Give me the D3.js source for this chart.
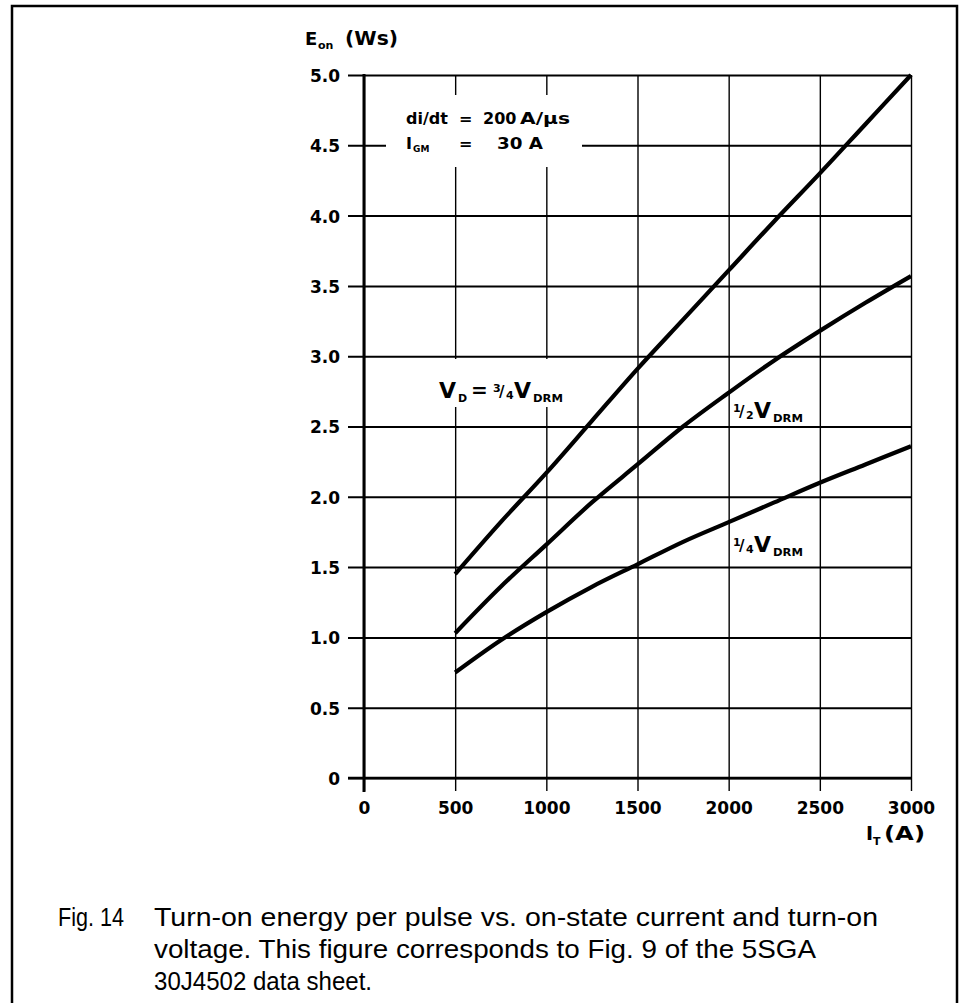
<!DOCTYPE html>
<html><head><meta charset="utf-8">
<script src="https://cdn.jsdelivr.net/npm/d3@7"></script>
<style>
body{margin:0;background:#fff}
svg{display:block}
.lab{font-family:"DejaVu Sans",sans-serif;font-weight:bold;fill:#000}
.cap{font-family:"Liberation Sans",Arial,sans-serif;font-weight:normal;fill:#000}
</style>
</head><body>
<svg id="c" width="965" height="1003"></svg>
<script>
// ---- data ----
const xTicks = [0, 500, 1000, 1500, 2000, 2500, 3000];
const yTicks = [0, 0.5, 1.0, 1.5, 2.0, 2.5, 3.0, 3.5, 4.0, 4.5, 5.0];
const yTickLabels = ["0", "0.5", "1.0", "1.5", "2.0", "2.5", "3.0", "3.5", "4.0", "4.5", "5.0"];
const current = [500, 750, 1000, 1250, 1500, 1750, 2000, 2250, 2500, 2750, 3000];
const eonThreeQuarter = [1.45, 1.82, 2.17, 2.54, 2.91, 3.26, 3.61, 3.96, 4.30, 4.65, 5.00];
const eonHalf = [1.03, 1.36, 1.66, 1.96, 2.23, 2.50, 2.74, 2.97, 3.18, 3.38, 3.57];
const eonQuarter = [0.75, 0.98, 1.18, 1.36, 1.52, 1.68, 1.82, 1.96, 2.10, 2.23, 2.36];

const svg = d3.select("#c");
const x = d3.scaleLinear().domain([0, 3000]).range([364, 911]);
const y = d3.scaleLinear().domain([0, 5]).range([778, 75]);

// outer frame
svg.append("rect").attr("x", 12).attr("y", 6).attr("width", 945).attr("height", 1020)
  .attr("fill", "none").attr("stroke", "#000").attr("stroke-width", 2.5);

// horizontal grid (with ticks extending left of axis)
const yAxis = d3.axisLeft(y).tickValues(yTicks).tickSize(-(x(3000) - x(0))).tickSizeOuter(0)
  .tickFormat((d, i) => yTickLabels[i]).tickPadding(24);
const gy = svg.append("g").attr("transform", `translate(${x(0)},0)`).call(yAxis);
gy.select(".domain").remove();
gy.selectAll(".tick line").attr("x1", -16).attr("stroke", "#000").attr("stroke-width", 2);
gy.selectAll(".tick text").attr("font-size", 17).attr("dy", "0.38em")
  .style("font-family", "'DejaVu Sans',sans-serif").style("font-weight", "bold").attr("fill", "#000");

// vertical grid (with ticks extending below axis)
const xAxis = d3.axisBottom(x).tickValues(xTicks).tickSize(-(y(0) - y(5))).tickSizeOuter(0)
  .tickFormat(d3.format("d")).tickPadding(24);
const gx = svg.append("g").attr("transform", `translate(0,${y(0)})`).call(xAxis);
gx.select(".domain").remove();
gx.selectAll(".tick line").attr("y1", 13).attr("stroke", "#000").attr("stroke-width", 1.4);
gx.selectAll(".tick text").attr("font-size", 17)
  .style("font-family", "'DejaVu Sans',sans-serif").style("font-weight", "bold").attr("fill", "#000");

// left axis line and bottom axis (thicker)
svg.append("line").attr("x1", x(0)).attr("x2", x(0)).attr("y1", y(5) - 1).attr("y2", y(0) + 14)
  .attr("stroke", "#000").attr("stroke-width", 3);
svg.append("line").attr("x1", x(0) - 16).attr("x2", x(3000)).attr("y1", y(0)).attr("y2", y(0))
  .attr("stroke", "#000").attr("stroke-width", 2.5);

// white gaps behind annotations
svg.append("rect").attr("x", 386).attr("y", 95).attr("width", 196).attr("height", 72).attr("fill", "#fff");
svg.append("rect").attr("x", 432).attr("y", 359).attr("width", 148).attr("height", 48).attr("fill", "#fff");

// curves
const line = d3.line().x((d, i) => x(current[i])).y(d => y(d)).curve(d3.curveCatmullRom.alpha(0.5));
[eonThreeQuarter, eonHalf, eonQuarter].forEach(s => {
  svg.append("path").datum(s).attr("d", line).attr("fill", "none")
    .attr("stroke", "#000").attr("stroke-width", 4.2).attr("stroke-linecap", "butt");
});

// helper for absolutely placed text pieces
function put(xx, yy, size, s, len) {
  const t = svg.append("text").attr("class", "lab").attr("x", xx).attr("y", yy).attr("font-size", size).text(s);
  if (len) t.attr("textLength", len).attr("lengthAdjust", "spacingAndGlyphs");
  return t;
}

// axis titles
put(305, 45, 18, "E");
put(318, 49, 11, "on");
put(345, 45, 19, "(Ws)", 53);

put(866, 840, 19, "I");
put(873, 845, 11, "T");
put(884, 840, 20, "(A)", 41);

// conditions
put(406, 124, 16, "di/dt");
put(459, 124, 16, "=");
put(483, 124, 16, "200");
put(520, 124, 16, "A/μs", 50);
put(406, 149, 16, "I");
put(413, 152, 9, "GM");
put(459, 149, 16, "=");
put(497, 149, 16, "30 A", 46);

// curve labels
function vlabel(xx, yy, n, d, pre) {
  let cx = xx;
  if (pre) {
    put(cx, yy, 22, "V");
    put(cx + 19, yy + 4, 11, "D");
    put(cx + 32, yy - 1, 20, "=");
    cx = 493;
  }
  put(cx, yy - 6, 11, n);
  put(cx + 6, yy - 1, 15, "/");
  put(cx + 13, yy + 1, 11, d);
  put(cx + 21, yy, 22, "V");
  put(cx + 40, yy + 4, 11, "DRM", 30);
}
vlabel(439, 398, "3", "4", true);
vlabel(733, 418, "1", "2", false);
vlabel(733, 552, "1", "4", false);

// caption
const cap = [
  {x: 58, y: 926, w: 66, s: "Fig. 14"},
  {x: 154, y: 926, w: 724, s: "Turn-on energy per pulse vs. on-state current and turn-on"},
  {x: 154, y: 958, w: 662, s: "voltage. This figure corresponds to Fig. 9 of the 5SGA"},
  {x: 154, y: 990, w: 218, s: "30J4502 data sheet."}
];
cap.forEach(c => {
  svg.append("text").attr("class", "cap").attr("x", c.x).attr("y", c.y).attr("font-size", 26)
    .attr("textLength", c.w).attr("lengthAdjust", "spacingAndGlyphs").text(c.s);
});
</script>
</body></html>
